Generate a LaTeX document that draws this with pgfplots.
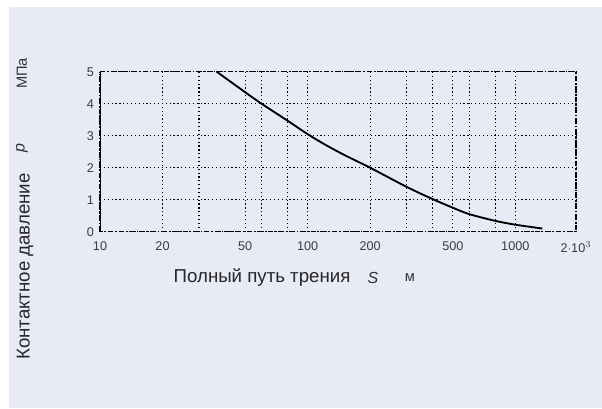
\documentclass[border=0pt]{standalone}
\usepackage{pgfplots}
\pgfplotsset{compat=1.18}
\usepackage{fontspec}
\setmainfont{Liberation Sans}
\definecolor{bg}{RGB}{232,234,246}
\definecolor{tk}{RGB}{60,60,60}
\begin{document}
\begin{tikzpicture}
\path (0,0) rectangle (451.5pt,306pt);
\fill[bg] (6.75pt,0) rectangle (451.5pt,300.75pt);
\begin{axis}[
  at={(75pt,132.2pt)}, anchor=south west,
  width=357pt, height=120pt, scale only axis,
  xmode=log, log basis x=10,
  xmin=10, xmax=1960, ymin=0, ymax=5,
  xtick={10,20,30,50,60,80,100,200,300,400,500,600,800,1000,1960},
  xticklabels={10,20,{},50,{},{},100,200,{},{},500,{},{},1000,{2$\cdot$10$^3$}},
  ytick={0,1,2,3,4,5},
  /pgf/number format/assume math mode=true,
  tick label style={font=\fontsize{9.5}{10}\selectfont, text=tk},
  major tick length=0pt,
  grid=major,
  major grid style={black, line width=0.9pt, dotted},
  axis line style={black, line width=1pt, dash pattern=on 4pt off 1.5pt on 1pt off 1.5pt},
  xticklabel style={yshift=-4pt},
  yticklabel style={xshift=-1pt},
  axis background/.style={fill=bg},
]
\addplot[black, line width=1.4pt, smooth, tension=0.5] coordinates {
  (36.5,5) (50,4.36) (60,4.0) (80,3.47) (100,3.05) (120,2.74) (150,2.4) (200,2.0)
  (300,1.4) (400,1.02) (500,0.75) (600,0.55) (800,0.34) (1000,0.22) (1350,0.1)
};
\draw[black, line width=1.6pt] (axis cs:10,0) -- (axis cs:10,5);
\end{axis}
\node[anchor=west, font=\fontsize{14}{16}\selectfont, text=black!85] at (126.75pt,97.5pt) {Полный путь трения};
\node[font=\fontsize{12}{14}\selectfont\itshape, text=black!80] at (279.75pt,97.5pt) {S};
\node[font=\fontsize{11}{13}\selectfont, text=black!80] at (307.5pt,97.5pt) {м};
\node[rotate=90, font=\fontsize{14}{16}\selectfont, text=black!85] at (18.75pt,106.1pt) {Контактное давление};
\node[rotate=90, font=\fontsize{12}{14}\selectfont\itshape, text=black!80] at (16.5pt,195pt) {p};
\node[rotate=90, font=\fontsize{11}{13}\selectfont, text=black!80] at (16.5pt,250.9pt) {МПа};
\end{tikzpicture}
\end{document}
